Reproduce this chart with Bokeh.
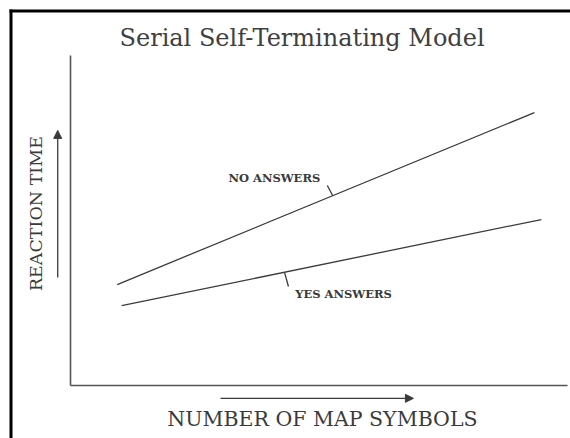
import math
from bokeh.plotting import figure
from bokeh.models import Range1d, Label, Arrow, NormalHead, BoxAnnotation
from bokeh.embed import file_html
from bokeh.resources import INLINE

# Data (schematic model lines)
map_symbols_no = [0.95, 9.43]
rt_no = [3.06, 8.27]
map_symbols_yes = [1.04, 9.57]
rt_yes = [2.42, 5.03]

# Callout leaders
no_leader_x = [5.22, 5.33]
no_leader_y = [6.06, 5.75]
yes_leader_x = [4.35, 4.43]
yes_leader_y = [3.43, 3.00]
series_labels = ["NO ANSWERS", "YES ANSWERS"]
axis_titles = ["NUMBER OF MAP SYMBOLS", "REACTION TIME"]
chart_title = "Serial Self-Terminating Model"

INK = "#3a3a3a"
SERIF = "DejaVu Serif"

p = figure(width=570, height=438, output_backend="svg", toolbar_location=None, title=None,
           x_range=Range1d(-1.423, 10.163), y_range=Range1d(-1.606, 11.667),
           min_border_left=0, min_border_right=0, min_border_top=0, min_border_bottom=0)

p.outline_line_color = None
p.grid.visible = False
for ax in (p.xaxis[0], p.yaxis[0]):
    ax.ticker = []
    ax.major_tick_out = 0
    ax.major_tick_in = 0
    ax.minor_tick_out = 0
    ax.major_label_standoff = 0
    ax.fixed_location = 0
    ax.axis_line_color = "#555555"
    ax.axis_line_width = 1.6
p.yaxis.bounds = (0, 10)
p.xaxis.bounds = (0, 10.1)

# scanned page frame (left and top edges)
p.add_layout(BoxAnnotation(left=9, right=12, top=9, bottom=438, left_units="canvas", right_units="canvas",
                           top_units="canvas", bottom_units="canvas", fill_color="black", fill_alpha=1,
                           line_color=None))
p.add_layout(BoxAnnotation(left=9, right=570, top=9, bottom=12, left_units="canvas", right_units="canvas",
                           top_units="canvas", bottom_units="canvas", fill_color="black", fill_alpha=1,
                           line_color=None))

p.add_layout(Label(x=0.996, y=10.545, text=chart_title, text_font=SERIF, text_font_size="24px",
                   text_color="#404040", text_baseline="middle"))

p.line(map_symbols_no, rt_no, line_color=INK, line_width=1.3)
p.line(map_symbols_yes, rt_yes, line_color=INK, line_width=1.3)
p.line(no_leader_x, no_leader_y, line_color=INK, line_width=1.3)
p.line(yes_leader_x, yes_leader_y, line_color=INK, line_width=1.3)

p.add_layout(Label(x=3.21, y=6.3, text=series_labels[0], text_font=SERIF, text_font_style="bold",
                   text_font_size="11.5px", text_color=INK, text_baseline="middle"))
p.add_layout(Label(x=4.57, y=2.76, text=series_labels[1], text_font=SERIF, text_font_style="bold",
                   text_font_size="11.5px", text_color=INK, text_baseline="middle"))

p.add_layout(Label(x=5.12, y=-1.0, text=axis_titles[0], text_font=SERIF, text_font_size="20.5px",
                   text_color=INK, text_align="center", text_baseline="middle"))
p.add_layout(Label(x=-0.711, y=5.21, text=axis_titles[1], text_font=SERIF, text_font_size="17.5px",
                   text_color=INK, text_align="center", text_baseline="middle", angle=math.pi / 2))

p.add_layout(Arrow(x_start=-0.26, y_start=3.27, x_end=-0.26, y_end=7.73, line_color=INK, line_width=1.3,
                   end=NormalHead(size=8, line_color=INK, fill_color=INK)))
p.add_layout(Arrow(x_start=3.05, y_start=-0.39, x_end=6.97, y_end=-0.39, line_color=INK, line_width=1.3,
                   end=NormalHead(size=8, line_color=INK, fill_color=INK)))

open("out.html", "w").write(file_html(p, INLINE))
